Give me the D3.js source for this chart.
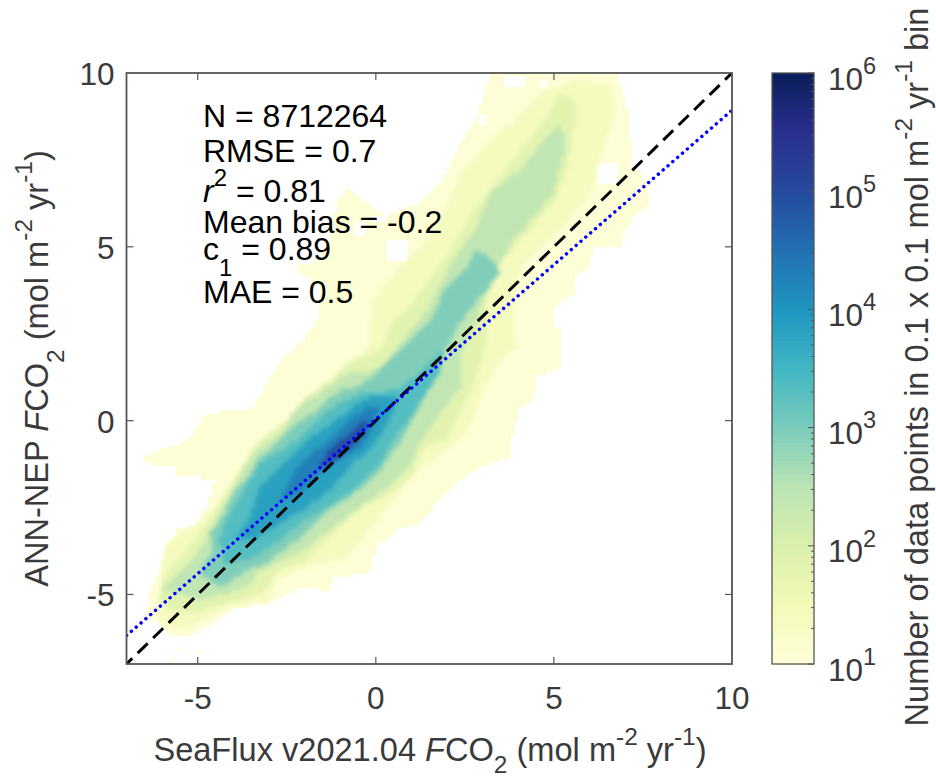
<!DOCTYPE html>
<html>
<head>
<meta charset="utf-8">
<script src="https://cdn.jsdelivr.net/npm/d3@7"></script>
<style>
  html, body { margin: 0; padding: 0; background: #fff; }
  svg { display: block; }
  text { font-family: "Liberation Sans", Arial, sans-serif; }
</style>
</head>
<body>
<div id="chart"></div>
<script>
// density outlines, [SeaFlux, ANN-NEP] in mol m-2 yr-1
const levelValues = [10, 30, 100, 300, 1000, 3000, 10000, 30000, 100000]
// log10(count) seen inside each outline
const bandLogs = [1.06, 1.4, 1.85, 2.4, 2.95, 3.35, 3.85, 4.3, 4.95]

const outline10 = [[-6.43,-5.66],[-6.35,-4.88],[-5.98,-4.22],[-5.93,-3.59],[-5.51,-3.10],[-5.03,-2.95],[-4.66,-2.29],[-4.52,-1.66],[-5.56,-1.63],[-5.62,-1.34],[-6.49,-1.23],[-6.49,-1.06],[-6.07,-0.82],[-5.31,-0.60],[-4.75,0.21],[-3.90,0.30],[-3.46,0.38],[-3.06,1.07],[-2.64,1.79],[-2.33,2.02],[-1.66,2.80],[-1.52,3.84],[-2.33,4.41],[-1.57,4.61],[-1.21,5.56],[-1.10,6.34],[-0.73,6.69],[-0.37,6.34],[0.25,5.91],[1.24,6.25],[1.80,6.83],[2.16,7.49],[2.56,8.30],[2.84,8.73],[3.12,9.59],[3.26,10],[6.77,10],[6.94,9.42],[7.08,8.93],[7.08,8.27],[7.22,7.87],[7.13,7.29],[7.50,7.12],[7.70,6.25],[7.22,5.85],[6.94,5.28],[6.94,4.99],[6.10,4.99],[6.01,4.38],[5.65,4.24],[5.59,3.66],[5.25,3.46],[5.25,2.40],[5.17,1.53],[4.52,1.25],[4.41,0.58],[4.04,0.38],[3.85,-0.36],[3.76,-1.06],[2.92,-1.34],[1.99,-2.0],[1.24,-2.96],[0.59,-3.16],[0.03,-3.64],[-0.17,-4.39],[-1.21,-4.51],[-1.29,-4.88],[-2.13,-4.80],[-3.06,-5.26],[-4.02,-5.46],[-4.75,-5.95],[-5.42,-6.23],[-5.70,-6.23],[-6.07,-5.83]]
const outline30 = [[-6.07,-5.75],[-6.01,-4.88],[-5.93,-3.73],[-5.45,-3.24],[-4.86,-2.87],[-4.38,-2.29],[-4.02,-1.72],[-3.62,-1.14],[-3.26,-0.57],[-2.50,-0.28],[-2.22,0.09],[-1.66,0.58],[-1.21,0.87],[-0.73,1.45],[-0.25,2.11],[-0.08,3.46],[0.67,4.41],[1.24,4.99],[1.80,5.76],[2.36,7.06],[3.20,8.07],[4.19,8.93],[4.75,9.45],[5.59,9.85],[6.57,9.65],[6.77,8.93],[6.29,7.58],[6.10,6.71],[5.93,6.34],[5.17,5.56],[4.69,4.99],[4.13,4.53],[3.96,3.84],[3.85,2.89],[3.96,2.11],[3.48,1.79],[2.92,0.58],[2.56,-0.36],[1.32,-1.34],[0.76,-1.92],[0.11,-2.78],[-0.25,-3.24],[-0.81,-3.93],[-1.94,-4.22],[-2.70,-4.51],[-3.06,-5.17],[-4.02,-5.31],[-4.75,-5.66],[-5.51,-6.03]]
const outline100 = [[-5.59,-5.55],[-6.12,-5.17],[-5.87,-4.39],[-5.31,-3.73],[-4.75,-2.96],[-4.30,-2.29],[-3.90,-1.63],[-3.46,-0.85],[-2.98,-0.36],[-2.33,0.09],[-1.94,0.67],[-1.21,1.25],[-0.81,1.68],[0.11,2.02],[0.48,2.89],[0.96,3.32],[1.38,3.89],[2.16,4.99],[2.64,5.91],[3.12,6.54],[3.85,7.49],[4.80,8.73],[5.17,9.42],[5.65,9.13],[5.53,8.27],[5.37,7.20],[4.97,6.25],[4.24,5.39],[3.57,4.61],[3.12,3.66],[3.12,2.68],[3.01,1.82],[2.56,0.58],[1.99,-0.57],[1.32,-0.77],[1.04,-1.52],[0.48,-2.09],[-0.45,-2.49],[-1.21,-3.24],[-1.94,-4.02],[-2.78,-4.31],[-3.17,-4.97],[-3.90,-5.17],[-4.86,-5.46]]
const outline300 = [[-6.01,-4.88],[-5.51,-4.39],[-4.94,-3.73],[-4.47,-2.87],[-4.02,-2.01],[-3.54,-1.14],[-3.06,-0.65],[-2.61,-0.34],[-2.42,0.09],[-2.05,0.50],[-1.57,0.79],[-0.81,1.36],[-0.25,1.39],[0.31,1.65],[0.67,2.22],[1.15,2.80],[1.60,3.46],[2.16,4.61],[2.84,5.56],[3.20,6.54],[4.04,7.20],[4.80,8.21],[5.22,8.50],[5.31,7.78],[4.97,6.54],[4.41,5.85],[3.85,5.19],[3.40,4.41],[3.01,3.46],[2.84,2.89],[2.36,1.94],[2.36,0.96],[1.80,0.21],[1.24,-0.65],[0.87,-1.43],[0.31,-1.92],[-1.21,-3.07],[-1.94,-3.65],[-2.78,-4.11],[-3.34,-4.39],[-3.62,-4.80],[-4.19,-4.97],[-4.94,-5.17],[-5.59,-4.97]]
const outline1000 = [[-4.94,-4.39],[-4.58,-3.73],[-4.66,-3.24],[-4.30,-2.78],[-4.02,-2.09],[-3.54,-1.63],[-3.26,-1.05],[-2.78,-0.65],[-2.22,-0.08],[-1.66,0.30],[-1.01,0.87],[-0.53,0.96],[0.03,1.36],[0.48,1.82],[1.04,2.40],[1.60,2.97],[1.99,3.89],[2.44,4.24],[2.84,4.90],[3.20,4.70],[3.48,4.24],[2.92,3.55],[2.36,2.80],[1.88,1.94],[1.60,1.16],[1.15,0.30],[0.67,-0.65],[0.03,-1.52],[-0.73,-2.21],[-1.21,-2.49],[-2.13,-3.36],[-2.98,-4.02],[-3.74,-4.39],[-4.38,-4.80]]
const outline3000 = [[-4.30,-4.10],[-4.38,-3.36],[-4.10,-2.67],[-3.74,-2.09],[-3.26,-1.23],[-2.50,-0.77],[-1.94,-0.28],[-1.21,0.38],[-0.45,0.79],[0.59,0.87],[0.96,1.16],[1.60,1.74],[1.88,2.02],[1.80,1.39],[1.32,0.67],[0.96,0.10],[0.48,-0.57],[0.11,-1.23],[-0.53,-1.92],[-1.38,-2.49],[-2.13,-2.96],[-2.98,-3.65],[-3.62,-4.02]]
const outline10000 = [[-3.90,-3.36],[-3.54,-2.78],[-3.26,-1.92],[-2.70,-1.34],[-2.33,-0.94],[-1.94,-0.57],[-1.21,-0.08],[-0.53,0.50],[0.03,0.73],[0.67,0.73],[0.31,-0.08],[-0.08,-0.77],[-0.65,-1.23],[-1.21,-1.92],[-1.94,-2.49],[-2.70,-2.96],[-3.46,-3.44]]
const outline30000 = [[-2.70,-2.29],[-2.33,-1.52],[-1.77,-0.94],[-1.21,-0.48],[-0.65,0.10],[-0.17,0.44],[0.11,0.38],[-0.11,-0.28],[-0.45,-0.77],[-1.01,-1.05],[-1.66,-1.63],[-2.33,-2.21]]
const outline100000 = [[-1.66,-1.34],[-1.21,-0.77],[-0.65,-0.28],[-0.17,0.10],[-0.37,-0.48],[-0.81,-0.85],[-1.38,-1.34]]

const outlines = [outline10, outline30, outline100, outline300, outline1000, outline3000, outline10000, outline30000, outline100000]

// white gaps inside the outer band and a few stray bins below the tail
const gaps = [
    [[0.3,4.6],[0.95,4.6],[0.95,5.2],[0.3,5.2]],
    [[6.2,6.83],[6.77,6.83],[6.77,7.4],[6.2,7.4]],
    [[5.0,2.7],[5.2,2.7],[5.2,3.3],[5.0,3.3]],
    [[3.8,8.4],[4.0,8.4],[4.0,8.6],[3.8,8.6]],
    [[3.6,9.6],[4.2,9.6],[4.2,9.9],[3.6,9.9]],
    [[4.6,9.6],[4.8,9.6],[4.8,9.8],[4.6,9.8]],
    [[2.9,8.5],[3.1,8.5],[3.1,8.8],[2.9,8.8]],
    [[-0.6,5.3],[-0.3,5.3],[-0.3,5.7],[-0.6,5.7]],
    [[-0.1,5.7],[0.3,5.7],[0.3,5.9],[-0.1,5.9]]
]
const strayBins = [[-5.65,-6.5],[-5.73,-6.8],[-4.97,-6.63]]

const fitLine = [[-7,-6.18],[10,8.93]]
const oneToOne = [[-7,-7],[10,10]]

const xTicks = [-5, 0, 5, 10]
const yTicks = [-5, 0, 5, 10]
const cbarExponents = [1, 2, 3, 4, 5, 6]

// colorbar colours, log10(count) -> colour
const cmapLogs = [1, 1.5, 2, 2.5, 3, 3.5, 4, 4.5, 5, 5.5, 6]
const cmapColors = ['#ffffd9', '#f2f9b8', '#dbf0ad', '#bbe4b4', '#7accbb', '#41b6c4', '#1f96c0', '#2271b2', '#254a9e', '#2a2f8e', '#0a1e5a']

const statLines = [
    { y: 127, parts: [['N = 8712264']] },
    { y: 162, parts: [['RMSE = 0.7']] },
    { y: 202, parts: [['r', 'i'], ['2', 'sup'], [' = 0.81', 'back']] },
    { y: 233, parts: [['Mean bias = -0.2']] },
    { y: 260, parts: [['c'], ['1', 'sub'], [' = 0.89', 'back']] },
    { y: 303, parts: [['MAE = 0.5']] }
]

const xLabelParts = [['SeaFlux v2021.04 '], ['F', 'i'], ['CO'], ['2', 'sub'], [' (mol m', 'back'], ['-2', 'sup'], [' yr', 'back'], ['-1', 'sup'], [')', 'back']]
const yLabelParts = [['ANN-NEP '], ['F', 'i'], ['CO'], ['2', 'sub'], [' (mol m', 'back'], ['-2', 'sup'], [' yr', 'back'], ['-1', 'sup'], [')', 'back']]
const cLabelParts = [['Number of data points in 0.1 x 0.1 mol m'], ['-2', 'sup'], [' yr', 'back'], ['-1', 'sup'], [' bin', 'back']]

const width = 936
const height = 778

const svg = d3.select('#chart').append('svg')
    .attr('width', width)
    .attr('height', height)

const x = d3.scaleLinear().domain([-7, 10]).range([126.5, 732])
const y = d3.scaleLinear().domain([-7, 10]).range([664, 73])
const cbarY = d3.scaleLog().domain([10, 1e6]).range([664, 73])
const cmap = d3.scaleLinear().domain(cmapLogs).range(cmapColors).interpolate(d3.interpolateRgb)

const axisColor = '#555'
const textColor = '#3a3a3a'

const defs = svg.append('defs')
defs.append('filter').attr('id', 'soft')
    .attr('x', '-10%').attr('y', '-10%').attr('width', '120%').attr('height', '120%')
    .append('feGaussianBlur').attr('stdDeviation', 2.2)
defs.append('clipPath').attr('id', 'plotClip').append('rect')
    .attr('x', x(-7)).attr('y', y(10))
    .attr('width', x(10) - x(-7)).attr('height', y(-7) - y(10))

// rich text: parts are [string, kind], kind = i, sup, sub or back (return to the baseline)
const writeParts = (el, parts, size, subShift = 0.5) => {
    let shift = 0
    parts.forEach(([str, kind]) => {
        const span = el.append('tspan').text(str)
        let target = 0
        if (kind === 'sup') target = -size * 0.5
        if (kind === 'sub') target = size * subShift
        if (kind === 'sup' || kind === 'sub') span.attr('font-size', size * 0.75)
        if (kind === 'i') span.attr('font-style', 'italic')
        if (target !== shift) span.attr('dy', target - shift)
        shift = target
    })
}

// the 0.1 x 0.1 bins that fall inside an outline, as one path
const binPath = (outline) => {
    let d = ''
    const w = x(0.1) - x(0)
    const h = y(0) - y(0.1)
    d3.range(-70, 100).forEach((i) => {
        d3.range(-70, 100).forEach((j) => {
            if (d3.polygonContains(outline, [(i + 0.5) / 10, (j + 0.5) / 10])) {
                d += `M${x(i / 10)},${y((j + 1) / 10)}h${w}v${h}h${-w}z`
            }
        })
    })
    return d
}

const plot = svg.append('g').attr('clip-path', 'url(#plotClip)')

const bandColor = (i) => cmap(bandLogs[i])

plot.append('path')
    .attr('d', binPath(outlines[0]))
    .attr('fill', bandColor(0))
    .attr('shape-rendering', 'crispEdges')

plot.selectAll('path.gap')
    .data(gaps)
    .join('path')
    .attr('class', 'gap')
    .attr('d', binPath)
    .attr('fill', '#fff')
    .attr('shape-rendering', 'crispEdges')

plot.selectAll('rect.stray')
    .data(strayBins)
    .join('rect')
    .attr('class', 'stray')
    .attr('x', (d) => x(d[0]))
    .attr('y', (d) => y(d[1]))
    .attr('width', x(0.1) - x(0))
    .attr('height', y(0) - y(0.1))
    .attr('fill', bandColor(0))

const inner = plot.append('g')
inner.selectAll('path')
    .data(outlines.slice(1))
    .join('path')
    .attr('d', binPath)
    .attr('fill', (d, i) => bandColor(i + 1))
    .attr('filter', 'url(#soft)')

const line = d3.line().x((d) => x(d[0])).y((d) => y(d[1]))

plot.append('path')
    .attr('d', line(oneToOne))
    .attr('fill', 'none')
    .attr('stroke', '#000')
    .attr('stroke-width', 3)
    .attr('stroke-dasharray', '14 7.6')
    .attr('stroke-dashoffset', 6)

plot.append('path')
    .attr('d', line(fitLine))
    .attr('fill', 'none')
    .attr('stroke', '#0000ff')
    .attr('stroke-width', 3.4)
    .attr('stroke-linecap', 'round')
    .attr('stroke-dasharray', '0.1 6.3')

// box and ticks
svg.append('rect')
    .attr('x', x(-7)).attr('y', y(10))
    .attr('width', x(10) - x(-7)).attr('height', y(-7) - y(10))
    .attr('fill', 'none').attr('stroke', axisColor).attr('stroke-width', 1.8)

const tickLen = 7
const tickG = svg.append('g').attr('stroke', axisColor).attr('stroke-width', 1.2)
xTicks.filter((t) => t < 10).forEach((t) => {
    tickG.append('line').attr('x1', x(t)).attr('x2', x(t)).attr('y1', y(-7)).attr('y2', y(-7) - tickLen)
    tickG.append('line').attr('x1', x(t)).attr('x2', x(t)).attr('y1', y(10)).attr('y2', y(10) + tickLen)
})
yTicks.filter((t) => t < 10).forEach((t) => {
    tickG.append('line').attr('x1', x(-7)).attr('x2', x(-7) + tickLen).attr('y1', y(t)).attr('y2', y(t))
    tickG.append('line').attr('x1', x(10)).attr('x2', x(10) - tickLen).attr('y1', y(t)).attr('y2', y(t))
})

const tickFont = 31.5
const titleFont = 32.6

svg.append('g').selectAll('text')
    .data(xTicks)
    .join('text')
    .attr('x', (d) => x(d))
    .attr('y', 709)
    .attr('text-anchor', 'middle')
    .attr('font-size', tickFont)
    .attr('fill', textColor)
    .text((d) => d)

svg.append('g').selectAll('text')
    .data(yTicks)
    .join('text')
    .attr('x', 114.5)
    .attr('y', (d) => y(d) + 12)
    .attr('text-anchor', 'end')
    .attr('font-size', tickFont)
    .attr('fill', textColor)
    .text((d) => d)

// stats text
statLines.forEach((s) => {
    const t = svg.append('text')
        .attr('x', 203).attr('y', s.y)
        .attr('font-size', 32).attr('fill', '#000')
    writeParts(t, s.parts, 32)
})

// axis titles
const xTitle = svg.append('text')
    .attr('x', 430).attr('y', 761)
    .attr('text-anchor', 'middle')
    .attr('font-size', titleFont).attr('fill', textColor)
writeParts(xTitle, xLabelParts, titleFont, 0.38)

const yTitle = svg.append('text')
    .attr('transform', 'translate(48,368.5) rotate(-90)')
    .attr('text-anchor', 'middle')
    .attr('font-size', titleFont).attr('fill', textColor)
writeParts(yTitle, yLabelParts, titleFont)

// colorbar
const cbarLeft = 772
const cbarRight = 814
const cbarSteps = d3.range(0, 128)

svg.append('g').selectAll('rect')
    .data(cbarSteps)
    .join('rect')
    .attr('x', cbarLeft)
    .attr('width', cbarRight - cbarLeft)
    .attr('y', (d) => cbarY(Math.pow(10, 1 + (d + 1) * 5 / 128)))
    .attr('height', (d) => cbarY(Math.pow(10, 1 + d * 5 / 128)) - cbarY(Math.pow(10, 1 + (d + 1) * 5 / 128)) + 0.5)
    .attr('fill', (d) => cmap(1 + (d + 0.5) * 5 / 128))
    .attr('shape-rendering', 'crispEdges')

svg.append('rect')
    .attr('x', cbarLeft).attr('y', cbarY(1e6))
    .attr('width', cbarRight - cbarLeft).attr('height', cbarY(10) - cbarY(1e6))
    .attr('fill', 'none').attr('stroke', '#555').attr('stroke-width', 1.3)

const cbarTicks = cbarY.ticks()
svg.append('g').selectAll('line')
    .data(cbarTicks)
    .join('line')
    .attr('x1', cbarRight)
    .attr('x2', (d) => cbarRight - (Number.isInteger(Math.log10(d)) ? 6 : 3))
    .attr('y1', (d) => cbarY(d))
    .attr('y2', (d) => cbarY(d))
    .attr('stroke', '#555')
    .attr('stroke-width', 1)

const cbarText = svg.append('g').selectAll('text')
    .data(cbarExponents)
    .join('text')
    .attr('x', 828)
    .attr('y', (d) => cbarY(Math.pow(10, d)) + 16.5)
    .attr('font-size', tickFont)
    .attr('fill', textColor)
cbarText.each(function (d) {
    writeParts(d3.select(this), [['10'], [String(d), 'sup']], tickFont)
})

const cTitle = svg.append('text')
    .attr('transform', 'translate(928,367) rotate(-90)')
    .attr('text-anchor', 'middle')
    .attr('font-size', titleFont).attr('fill', textColor)
writeParts(cTitle, cLabelParts, titleFont)
</script>
</body>
</html>
